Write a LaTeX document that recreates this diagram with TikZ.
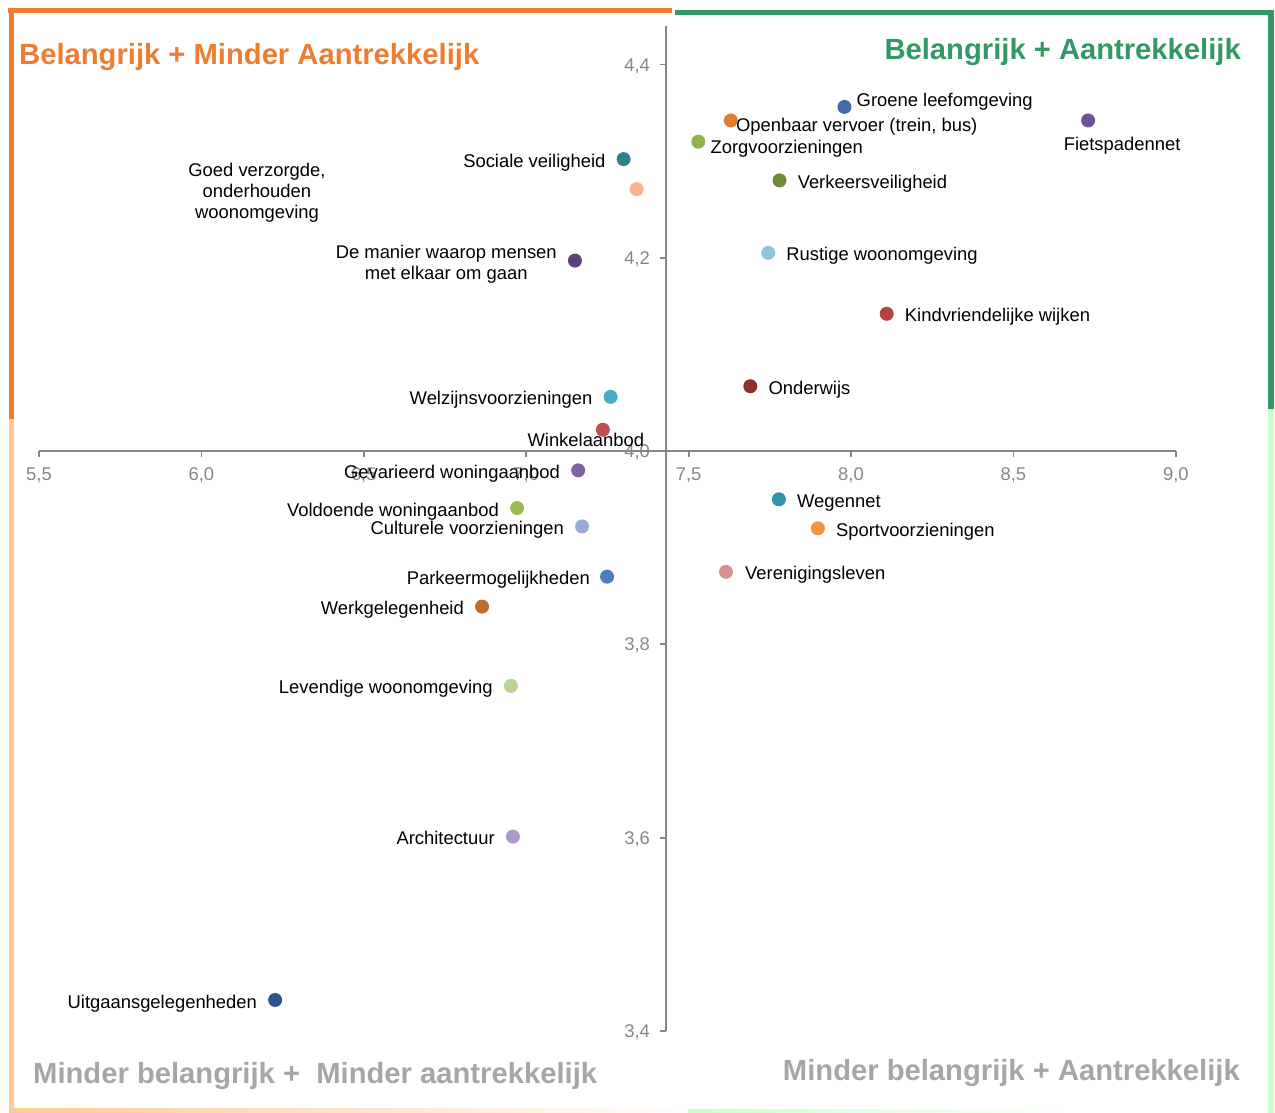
\documentclass[tikz,border=0pt]{standalone}
\usepackage{fontspec}
\setmainfont{Liberation Sans}
\usetikzlibrary{positioning}

% kaderkleuren
\definecolor{kwOranje}{RGB}{237,125,49}
\definecolor{kwPerzik}{RGB}{255,201,147}
\definecolor{kwGroen}{RGB}{50,152,102}
\definecolor{kwLichtgroen}{RGB}{204,255,204}
\definecolor{kwGrijs}{RGB}{166,166,166}
\definecolor{kwAs}{RGB}{134,134,134}
% stipkleuren
\definecolor{cGroen}{RGB}{64,106,170}
\definecolor{cOV}{RGB}{226,125,50}
\definecolor{cFiets}{RGB}{112,84,146}
\definecolor{cZorg}{RGB}{145,178,76}
\definecolor{cVerkeer}{RGB}{110,140,55}
\definecolor{cSociaal}{RGB}{46,126,148}
\definecolor{cVerzorgd}{RGB}{249,178,138}
\definecolor{cRustig}{RGB}{146,197,220}
\definecolor{cManier}{RGB}{92,66,120}
\definecolor{cKind}{RGB}{182,66,64}
\definecolor{cOnderwijs}{RGB}{143,47,44}
\definecolor{cWelzijn}{RGB}{72,172,200}
\definecolor{cWinkel}{RGB}{192,80,77}
\definecolor{cGevarieerd}{RGB}{128,98,162}
\definecolor{cVoldoende}{RGB}{155,187,89}
\definecolor{cCultuur}{RGB}{152,170,214}
\definecolor{cWegen}{RGB}{52,145,170}
\definecolor{cSport}{RGB}{247,148,66}
\definecolor{cVereniging}{RGB}{214,146,145}
\definecolor{cParkeer}{RGB}{78,125,190}
\definecolor{cWerk}{RGB}{190,110,48}
\definecolor{cLevendig}{RGB}{186,211,148}
\definecolor{cArchitectuur}{RGB}{170,154,200}
\definecolor{cUitgaan}{RGB}{44,82,143}

\tikzset{
  stip/.style={circle,inner sep=0pt,minimum size=14pt},
  tekst/.style={inner sep=0pt,text height=13.2pt,text depth=0pt,font=\fontsize{18.4}{21}\selectfont,yshift=-1.5pt},
  tekstblok/.style={inner sep=0pt,align=center,font=\fontsize{18.4}{21}\selectfont},
  schaal/.style={inner sep=0pt,text height=13.2pt,text depth=0pt,font=\fontsize{18.4}{21}\selectfont,text=kwAs},
  titel/.style={inner sep=0pt,font=\fontsize{29.2}{34}\selectfont\bfseries},
  aslijn/.style={draw=kwAs,line width=1.8pt},
}

\begin{document}
\begin{tikzpicture}[x=1pt,y=-1pt]
\useasboundingbox (0,0) rectangle (1275,1113);

% kader
\draw[kwOranje,line width=5pt]     (8,11)    -- (672,11);
\draw[kwOranje,line width=5.5pt]   (11.5,8)  -- (11.5,419);
\draw[kwPerzik,line width=5.5pt]   (11.5,419) -- (11.5,1113);
\shade[left color=kwPerzik,middle color=kwPerzik!85!white,right color=white] (9,1108) rectangle (692,1113);
\draw[kwGroen,line width=5pt]      (675,12.5) -- (1271,12.5);
\draw[kwGroen,line width=6pt]      (1271,10) -- (1271,409);
\draw[kwLichtgroen,line width=6pt] (1271,409) -- (1271,1113);
\shade[left color=kwLichtgroen,right color=white] (688,1109) rectangle (1072,1113);

% titels
\node[titel,text=kwOranje,anchor=base west] (tLB) at (19,65)    {Belangrijk + Minder Aantrekkelijk};
\node[titel,text=kwGroen,anchor=base east]  (tRB) at (1241,60)  {Belangrijk + Aantrekkelijk};
\node[titel,text=kwGrijs,anchor=base west]  (tLO) at (33,1083)  {Minder belangrijk +\ \ Minder aantrekkelijk};
\node[titel,text=kwGrijs,anchor=base east]  (tRO) at (1240,1080) {Minder belangrijk + Aantrekkelijk};

\begin{scope}[x=324.8pt,y=966.5pt,xshift=-1747.4pt,yshift=-4317pt]
% assen
\draw[aslijn] (5.5,4) -- (9,4);
\draw[aslijn] (7.43,3.4) -- (7.43,4.44);

\draw[aslijn] (5.5,4) -- ++(0,-6pt) node[schaal,below=9.4pt] (x55) {5,5};
\draw[aslijn] (6.0,4) -- ++(0,-6pt) node[schaal,below=9.4pt] (x60) {6,0};
\draw[aslijn] (6.5,4) -- ++(0,-6pt) node[schaal,below=9.4pt] (x65) {6,5};
\draw[aslijn] (7.0,4) -- ++(0,-6pt) node[schaal,below=9.4pt] (x70) {7,0};
\draw[aslijn] (7.5,4) -- ++(0,-6pt) node[schaal,below=9.4pt] (x75) {7,5};
\draw[aslijn] (8.0,4) -- ++(0,-6pt) node[schaal,below=9.4pt] (x80) {8,0};
\draw[aslijn] (8.5,4) -- ++(0,-6pt) node[schaal,below=9.4pt] (x85) {8,5};
\draw[aslijn] (9.0,4) -- ++(0,-6pt) node[schaal,below=9.4pt] (x90) {9,0};

\draw[aslijn] (7.43,3.4) -- ++(-6pt,0) node[schaal,left=9pt] (y34) {3,4};
\draw[aslijn] (7.43,3.6) -- ++(-6pt,0) node[schaal,left=9pt] (y36) {3,6};
\draw[aslijn] (7.43,3.8) -- ++(-6pt,0) node[schaal,left=9pt] (y38) {3,8};
\draw[aslijn] (7.43,4.0) -- ++(-6pt,0) node[schaal,left=9pt] (y40) {4,0};
\draw[aslijn] (7.43,4.2) -- ++(-6pt,0) node[schaal,left=9pt] (y42) {4,2};
\draw[aslijn] (7.43,4.4) -- ++(-6pt,0) node[schaal,left=9pt] (y44) {4,4};

% punten (aantrekkelijkheid, belang)
\coordinate (groen)       at (7.98,4.356);
\coordinate (ov)          at (7.63,4.342);
\coordinate (fiets)       at (8.73,4.342);
\coordinate (zorg)        at (7.53,4.320);
\coordinate (verkeer)     at (7.78,4.280);
\coordinate (sociaal)     at (7.30,4.302);
\coordinate (verzorgd)    at (7.34,4.271);
\coordinate (rustig)      at (7.745,4.205);
\coordinate (manier)      at (7.15,4.197);
\coordinate (kind)        at (8.11,4.142);
\coordinate (onderwijs)   at (7.69,4.067);
\coordinate (welzijn)     at (7.26,4.056);
\coordinate (winkel)      at (7.236,4.022);
\coordinate (gevarieerd)  at (7.16,3.980);
\coordinate (voldoende)   at (6.972,3.941);
\coordinate (cultuur)     at (7.172,3.922);
\coordinate (wegen)       at (7.778,3.950);
\coordinate (sport)       at (7.898,3.920);
\coordinate (vereniging)  at (7.615,3.875);
\coordinate (parkeer)     at (7.249,3.870);
\coordinate (werk)        at (6.864,3.839);
\coordinate (levendig)    at (6.953,3.757);
\coordinate (architectuur) at (6.959,3.601);
\coordinate (uitgaan)     at (6.227,3.432);

% labels
\node[tekst,right=12pt of groen,yshift=8.5pt]  (lGroen)   {Groene leefomgeving};
\node[tekst,right=5pt of ov,yshift=-2.5pt]     (lOV)      {Openbaar vervoer (trein, bus)};
\node[tekst,below=15pt of fiets,xshift=34pt]   (lFiets)   {Fietspadennet};
\node[tekst,right=12pt of zorg,yshift=-3.5pt]  (lZorg)    {Zorgvoorzieningen};
\node[tekst,right=18pt of verkeer]             (lVerkeer) {Verkeersveiligheid};
\node[tekst,left=18pt of sociaal]              (lSociaal) {Sociale veiligheid};
\node[tekstblok] (lVerzorgd) at (6.171,4.267)  {Goed verzorgde,\\onderhouden\\woonomgeving};
\node[tekst,right=18pt of rustig]              (lRustig)  {Rustige woonomgeving};
\node[tekstblok,left=18pt of manier,yshift=-3.5pt] (lManier) {De manier waarop mensen\\met elkaar om gaan};
\node[tekst,right=18pt of kind]                (lKind)    {Kindvriendelijke wijken};
\node[tekst,right=18pt of onderwijs]           (lOnderwijs) {Onderwijs};
\node[tekst,left=18pt of welzijn]              (lWelzijn) {Welzijnsvoorzieningen};
\node[tekst,below=2pt of winkel,xshift=-17pt]  (lWinkel)  {Winkelaanbod};
\node[tekst,left=18pt of gevarieerd]           (lGevarieerd) {Gevarieerd woningaanbod};
\node[tekst,left=18pt of voldoende]            (lVoldoende) {Voldoende woningaanbod};
\node[tekst,left=18pt of cultuur]              (lCultuur) {Culturele voorzieningen};
\node[tekst,right=18pt of wegen]               (lWegen)   {Wegennet};
\node[tekst,right=18pt of sport]               (lSport)   {Sportvoorzieningen};
\node[tekst,right=19pt of vereniging]          (lVereniging) {Verenigingsleven};
\node[tekst,left=17pt of parkeer]              (lParkeer) {Parkeermogelijkheden};
\node[tekst,left=18pt of werk]                 (lWerk)    {Werkgelegenheid};
\node[tekst,left=18pt of levendig]             (lLevendig) {Levendige woonomgeving};
\node[tekst,left=18pt of architectuur]         (lArchitectuur) {Architectuur};
\node[tekst,left=18pt of uitgaan]              (lUitgaan) {Uitgaansgelegenheden};

% stippen
\node[stip,fill=cGroen]        (sGroen)       at (groen)       {};
\node[stip,fill=cOV]           (sOV)          at (ov)          {};
\node[stip,fill=cFiets]        (sFiets)       at (fiets)       {};
\node[stip,fill=cZorg]         (sZorg)        at (zorg)        {};
\node[stip,fill=cVerkeer]      (sVerkeer)     at (verkeer)     {};
\node[stip,fill=cSociaal]      (sSociaal)     at (sociaal)     {};
\node[stip,fill=cVerzorgd]     (sVerzorgd)    at (verzorgd)    {};
\node[stip,fill=cRustig]       (sRustig)      at (rustig)      {};
\node[stip,fill=cManier]       (sManier)      at (manier)      {};
\node[stip,fill=cKind]         (sKind)        at (kind)        {};
\node[stip,fill=cOnderwijs]    (sOnderwijs)   at (onderwijs)   {};
\node[stip,fill=cWelzijn]      (sWelzijn)     at (welzijn)     {};
\node[stip,fill=cWinkel]       (sWinkel)      at (winkel)      {};
\node[stip,fill=cGevarieerd]   (sGevarieerd)  at (gevarieerd)  {};
\node[stip,fill=cVoldoende]    (sVoldoende)   at (voldoende)   {};
\node[stip,fill=cCultuur]      (sCultuur)     at (cultuur)     {};
\node[stip,fill=cWegen]        (sWegen)       at (wegen)       {};
\node[stip,fill=cSport]        (sSport)       at (sport)       {};
\node[stip,fill=cVereniging]   (sVereniging)  at (vereniging)  {};
\node[stip,fill=cParkeer]      (sParkeer)     at (parkeer)     {};
\node[stip,fill=cWerk]         (sWerk)        at (werk)        {};
\node[stip,fill=cLevendig]     (sLevendig)    at (levendig)    {};
\node[stip,fill=cArchitectuur] (sArchitectuur) at (architectuur) {};
\node[stip,fill=cUitgaan]      (sUitgaan)     at (uitgaan)     {};
\end{scope}

\end{tikzpicture}
\end{document}
